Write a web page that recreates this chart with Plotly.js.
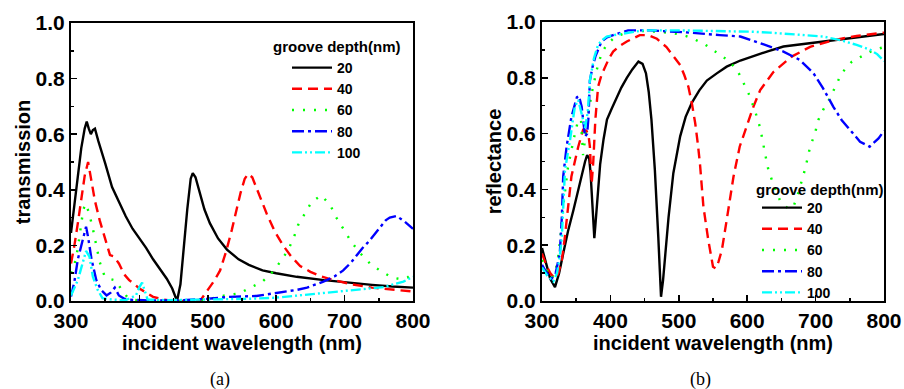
<!DOCTYPE html>
<html>
<head>
<meta charset="utf-8">
<script src="https://cdn.plot.ly/plotly-3.0.1.min.js"></script>
<style>html,body{margin:0;padding:0;background:#fff;}#chart{width:904px;height:389px;}</style>
</head>
<body>
<div id="chart"></div>
<script>
// ---------- Transmission (a) ----------
const wlT20 = [300,305,310,315,320,323,326,329,332,335,340,345,350,360,370,380,390,400,410,420,430,440,448,455,460,465,470,475,478,482,488,495,503,515,528,545,560,580,600,630,670,700,740,770,800];
const T20   = [0.245,0.34,0.45,0.55,0.62,0.645,0.62,0.60,0.615,0.62,0.575,0.53,0.495,0.41,0.355,0.305,0.26,0.225,0.19,0.15,0.115,0.08,0.045,0.0,0.06,0.2,0.33,0.44,0.46,0.445,0.39,0.33,0.28,0.225,0.185,0.15,0.13,0.11,0.1,0.087,0.075,0.067,0.058,0.052,0.048];

const wlT40 = [300,305,310,315,320,325,330,335,342,350,357,363,370,378,385,393,400,410,420,435,450,470,490,500,510,518,527,535,542,548,554,559,565,574,586,598,610,622,635,650,664,680,693,710,740,770,800];
const T40   = [0.135,0.2,0.28,0.37,0.45,0.50,0.43,0.36,0.29,0.22,0.165,0.16,0.135,0.095,0.075,0.06,0.045,0.03,0.015,0.005,0.0,0.0,0.005,0.04,0.075,0.11,0.18,0.255,0.33,0.39,0.44,0.457,0.445,0.39,0.315,0.25,0.2,0.16,0.126,0.105,0.09,0.078,0.07,0.06,0.048,0.04,0.034];

const wlT60 = [300,305,310,315,318,322,327,332,337,342,349,356,364,370,376,382,390,400,450,500,515,530,547,562,579,593,608,618,626,632,641,652,666,679,688,698,709,722,737,752,769,783,792,800];
const T60   = [0.1,0.13,0.19,0.27,0.33,0.35,0.31,0.26,0.2,0.14,0.09,0.08,0.075,0.055,0.034,0.015,0.005,0.002,0.0,0.005,0.016,0.022,0.028,0.048,0.068,0.10,0.147,0.186,0.23,0.273,0.313,0.357,0.38,0.345,0.30,0.258,0.216,0.174,0.135,0.109,0.085,0.078,0.085,0.1];

const wlT80 = [300,305,310,315,319,322,325,330,337,344,352,358,364,370,378,390,420,460,500,532,571,601,630,645,669,685,698,710,718,726,735,744,752,760,766,776,788,800];
const T80   = [0.016,0.07,0.15,0.2,0.24,0.267,0.23,0.15,0.075,0.04,0.02,0.03,0.048,0.02,0.008,0.004,0.002,0.002,0.008,0.015,0.018,0.028,0.04,0.048,0.07,0.088,0.11,0.14,0.165,0.19,0.213,0.24,0.267,0.29,0.30,0.306,0.285,0.26];

const wlT100 = [300,305,310,314,318,322,327,332,339,346,360,380,395,400,404,408,412,440,500,560,600,635,669,713,757,786,800];
const T100   = [0.02,0.045,0.075,0.11,0.15,0.18,0.16,0.087,0.04,0.01,0.005,0.003,0.02,0.05,0.066,0.034,0.005,0.003,0.005,0.008,0.012,0.02,0.028,0.04,0.05,0.07,0.087];

// ---------- Reflectance (b) ----------
const wlR20 = [300,305,312,319,325,331,338,346,352,358,363,366,369,371,373,375,376.5,378,380,382,385,390,395,402,409,416,424,432,441,447,452,456,460,465,470,474,477,481,485,492,502,510,519,530,541,555,570,590,609,630,653,680,702,725,750,775,800];
const R20   = [0.19,0.14,0.08,0.05,0.1,0.17,0.25,0.326,0.39,0.446,0.50,0.523,0.51,0.46,0.38,0.28,0.225,0.27,0.338,0.41,0.49,0.58,0.65,0.69,0.73,0.765,0.80,0.83,0.858,0.85,0.816,0.75,0.65,0.47,0.23,0.015,0.075,0.2,0.3,0.458,0.59,0.66,0.71,0.755,0.79,0.815,0.84,0.862,0.878,0.895,0.912,0.92,0.926,0.933,0.94,0.948,0.957];

const wlR40 = [300,306,312,319,324,329,333,336,340,343,348,353,360,365,368,370,372.6,375,378,382,387,392,398,404,414,424,434,443,455,468,482,492,502,508,514,519,524,528,531,536,543,550,554,558,563,570,580,589,599,609,619,638,665,692,726,760,800];
const R40   = [0.17,0.13,0.1,0.08,0.1,0.147,0.22,0.29,0.37,0.446,0.5,0.553,0.613,0.61,0.595,0.553,0.42,0.5,0.65,0.768,0.81,0.84,0.87,0.894,0.915,0.93,0.943,0.953,0.953,0.94,0.91,0.88,0.846,0.81,0.768,0.71,0.637,0.56,0.49,0.338,0.22,0.123,0.117,0.14,0.183,0.29,0.446,0.553,0.625,0.696,0.756,0.82,0.876,0.911,0.935,0.95,0.962];

const wlR60 = [300,307,314,319,323,327,331,338,346,353,357,360,363,367,372.6,380,387,395,404,416,428,450,470,492,510,521,538,553,570,585,594,602,611,619,626,631,638,648,660,668,675,685,692,699,704,711,721,738,753,770,785,800];
const R60   = [0.147,0.11,0.08,0.1,0.147,0.23,0.338,0.48,0.577,0.65,0.65,0.523,0.58,0.66,0.744,0.828,0.888,0.92,0.94,0.955,0.965,0.968,0.965,0.96,0.95,0.94,0.92,0.894,0.866,0.83,0.786,0.744,0.685,0.62,0.53,0.47,0.42,0.36,0.33,0.34,0.39,0.476,0.553,0.6,0.649,0.685,0.727,0.816,0.858,0.88,0.9,0.91];

const wlR80 = [300,307,314,320,326,329,331,336,343,351,354,358,363,366,368,370,374,378,387,395,404,415,426,458,516,560,590,619,653,677,697,711,726,738,750,765,779,792,800];
const R80   = [0.13,0.1,0.08,0.1,0.17,0.3,0.446,0.553,0.66,0.73,0.735,0.696,0.589,0.6,0.66,0.79,0.84,0.876,0.93,0.945,0.953,0.962,0.97,0.97,0.962,0.953,0.948,0.924,0.894,0.864,0.816,0.762,0.696,0.649,0.613,0.571,0.553,0.583,0.61];

const wlR100 = [300,308,316.5,322,326,329,333.6,341,348,353,358,363,367,370,376,382,388,394.6,410,424,448,500,560,609,633,677,711,736,760,780,790,800];
const R100   = [0.12,0.09,0.07,0.1,0.16,0.23,0.47,0.577,0.696,0.72,0.67,0.62,0.68,0.79,0.87,0.918,0.935,0.948,0.955,0.96,0.97,0.97,0.968,0.965,0.962,0.953,0.948,0.935,0.918,0.9,0.885,0.86];

const depthLabels = ['20','40','60','80','100'];
const legendTitle = 'groove depth(nm)';
const xTitle = 'incident wavelength (nm)';
const yTitleA = 'transmission';
const yTitleB = 'reflectance';
const captions = ['(a)','(b)'];
const xTickVals = [300,400,500,600,700,800];
const yTickVals = [0,0.2,0.4,0.6,0.8,1.0];

const styles = [
  {color:'#000000', dash:'solid'},
  {color:'#ff0000', dash:'10px,6px'},
  {color:'#00ff00', dash:'2px,9px'},
  {color:'#0000ff', dash:'12px,4px,3px,4px'},
  {color:'#00ffff', dash:'10px,3px,2px,3px,2px,3px'}
];

const tSets = [[wlT20,T20],[wlT40,T40],[wlT60,T60],[wlT80,T80],[wlT100,T100]];
const rSets = [[wlR20,R20],[wlR40,R40],[wlR60,R60],[wlR80,R80],[wlR100,R100]];

const traces = [];
tSets.forEach((s,i)=>{
  traces.push({x:s[0], y:s[1], xaxis:'x', yaxis:'y', mode:'lines', name:depthLabels[i],
    legend:'legend', line:{color:styles[i].color, dash:styles[i].dash, width:2.4}});
});
rSets.forEach((s,i)=>{
  traces.push({x:s[0], y:s[1], xaxis:'x2', yaxis:'y2', mode:'lines', name:depthLabels[i],
    legend:'legend2', line:{color:styles[i].color, dash:styles[i].dash, width:2.4}});
});

const FONT = 'Liberation Sans, Arial, sans-serif';
const tickFont = {family:FONT, size:21, color:'#000', weight:'bold'};
const titleFont = {family:FONT, size:20, color:'#000', weight:'bold'};

function xax(domain, anchor){
  return {domain:domain, anchor:anchor, range:[300,800], tickvals:xTickVals, ticks:'inside', ticklen:6, tickwidth:1.5, tickcolor:'#000',
    minor:{dtick:50, tick0:300, ticks:'inside', ticklen:3, tickwidth:1.5, tickcolor:'#000'},
    showline:true, mirror:true, linecolor:'#000', linewidth:2, showgrid:false, zeroline:false,
    tickfont:tickFont, title:{text:xTitle, font:titleFont, standoff:2}};
}
function yax(domain, anchor, title){
  return {domain:domain, anchor:anchor, range:[0,1], tickvals:yTickVals, tickformat:'.1f', ticks:'inside', ticklen:6, tickwidth:1.5, tickcolor:'#000',
    minor:{dtick:0.1, tick0:0, ticks:'inside', ticklen:3, tickwidth:1.5, tickcolor:'#000'},
    showline:true, mirror:true, linecolor:'#000', linewidth:2, showgrid:false, zeroline:false,
    tickfont:tickFont, title:{text:title, font:titleFont, standoff:0}};
}

const legFont = {family:FONT, size:14, color:'#000', weight:'bold'};
const legTitleFont = {family:FONT, size:15, color:'#000', weight:'bold'};
const layout = {
  width:904, height:389,
  margin:{l:0, r:0, t:0, b:0},
  paper_bgcolor:'#fff', plot_bgcolor:'#fff',
  showlegend:true,
  xaxis:xax([71/904, 413/904], 'y'),
  yaxis:yax([1-301/389, 1-23/389], 'x', yTitleA),
  xaxis2:xax([542/904, 884/904], 'y2'),
  yaxis2:yax([1-301/389, 1-22/389], 'x2', yTitleB),
  legend:{x:287/904, y:1-52/389, xanchor:'left', yanchor:'top', bgcolor:'rgba(0,0,0,0)',
    font:legFont, tracegroupgap:0, itemwidth:40},
  legend2:{x:757/904, y:1-192/389, xanchor:'left', yanchor:'top', bgcolor:'rgba(0,0,0,0)',
    font:legFont, tracegroupgap:0, itemwidth:40},
  annotations:[
    {text:legendTitle, xref:'paper', yref:'paper', x:271/904, y:1-47/389, xanchor:'left', yanchor:'middle',
      showarrow:false, font:legTitleFont},
    {text:legendTitle, xref:'paper', yref:'paper', x:754/904, y:1-189/389, xanchor:'left', yanchor:'middle',
      showarrow:false, font:legTitleFont},
    {text:captions[0], xref:'paper', yref:'paper', x:220/904, y:1-379/389, xanchor:'center', yanchor:'middle', showarrow:false,
      font:{family:'Liberation Serif, Times New Roman, serif', size:18, color:'#000'}},
    {text:captions[1], xref:'paper', yref:'paper', x:700/904, y:1-379/389, xanchor:'center', yanchor:'middle', showarrow:false,
      font:{family:'Liberation Serif, Times New Roman, serif', size:18, color:'#000'}}
  ]
};

Plotly.newPlot('chart', traces, layout, {displayModeBar:false, staticPlot:true});
</script>
</body>
</html>
